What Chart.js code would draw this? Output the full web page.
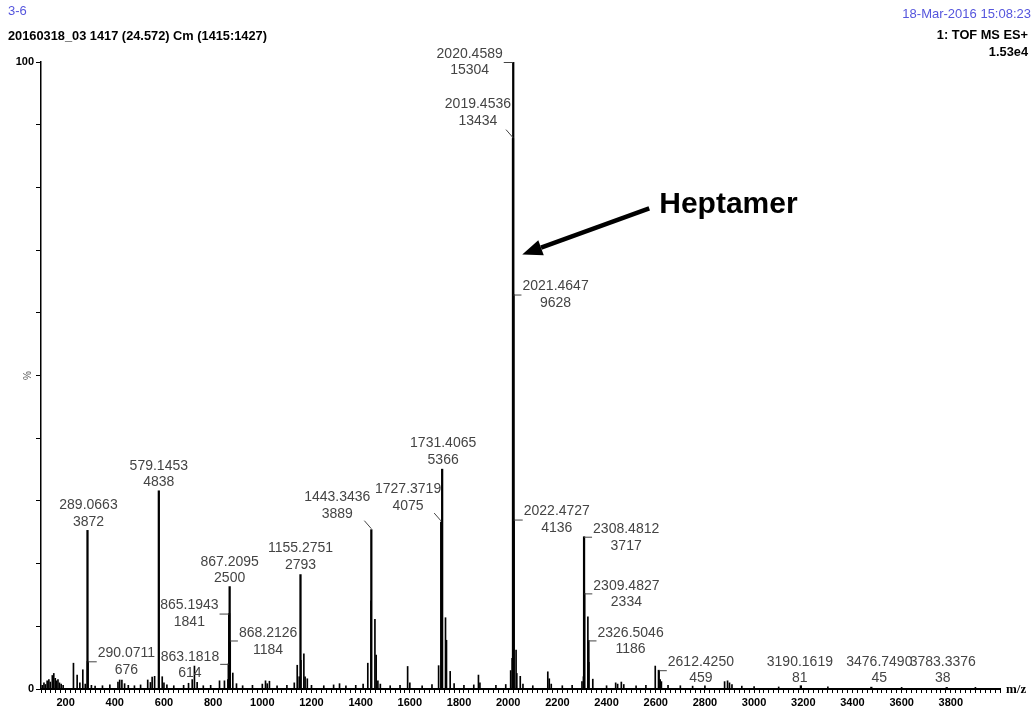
<!DOCTYPE html>
<html><head><meta charset="utf-8">
<script src="https://cdn.jsdelivr.net/npm/chart.js@4.4.1/dist/chart.umd.min.js"></script>
<style>html,body{margin:0;padding:0;background:#fff;}canvas{display:block;}</style>
</head><body>
<canvas id="c" width="1036" height="715"></canvas>
<script>
// ---------- DATA ----------
const basePeakCounts = 15304;           // 100 %
const headerLeft = ['3-6', '20160318_03 1417 (24.572) Cm (1415:1427)'];
const headerRight = ['18-Mar-2016 15:08:23', '1: TOF MS ES+', '1.53e4'];
const yAxisTitle = '%';
const xAxisTitle = 'm/z';
const calloutText = 'Heptamer';
const calloutTargetMz = 2020.4589;

const labeledMz = [289.0663, 290.0711, 579.1453, 863.1818, 865.1943, 867.2095, 868.2126,
  1155.2751, 1443.3436, 1727.3719, 1731.4065, 2019.4536, 2020.4589, 2021.4647, 2022.4727,
  2308.4812, 2309.4827, 2326.5046, 2612.4250, 3190.1619, 3476.7490, 3783.3376];
const labeledCounts = [3872, 676, 4838, 614, 1841, 2500, 1184,
  2793, 3889, 4075, 5366, 13434, 15304, 9628, 4136,
  3717, 2334, 1186, 459, 81, 45, 38];

const minorMz = [105, 112, 118, 125, 132, 138, 146, 152, 158, 163, 169, 175, 182, 190,
  232, 247, 258, 270, 280, 305, 320, 350, 380, 413, 420, 429, 440, 455, 480, 505,
  534, 545, 552, 562, 593, 600, 612, 640, 680, 700, 715, 724, 735, 760, 790,
  826, 846, 860, 880, 895, 920, 960, 1000, 1013, 1020, 1029, 1060, 1100, 1130,
  1142, 1150, 1157, 1169, 1174, 1183, 1200, 1250, 1290, 1314, 1340, 1380, 1410,
  1429, 1442, 1458, 1463, 1470, 1480, 1520, 1560, 1591, 1600, 1650, 1690, 1717,
  1745, 1749, 1764, 1780, 1820, 1860, 1879, 1885, 1950, 1990, 2010, 2016, 2032,
  2035, 2049, 2060, 2100, 2161, 2167, 2175, 2220, 2260, 2300, 2306, 2307.5, 2324,
  2328, 2344, 2400, 2437, 2445, 2460, 2470, 2520, 2560, 2598, 2618, 2623, 2650,
  2700, 2750, 2800, 2880, 2892, 2900, 2910, 2950, 3000, 3100, 3300, 3600, 3900];
const minorCounts = [90, 150, 110, 200, 230, 170, 330, 380, 260, 200, 230, 150, 120, 90,
  630, 340, 150, 470, 120, 90, 70, 80, 100, 170, 220, 220, 130, 90, 80, 100,
  220, 160, 290, 310, 300, 150, 100, 80, 90, 140, 230, 560, 160, 80, 90,
  200, 200, 230, 390, 130, 80, 90, 120, 200, 130, 190, 80, 90, 150,
  580, 300, 700, 860, 300, 250, 90, 80, 100, 130, 80, 90, 120,
  630, 2150, 1700, 830, 200, 120, 80, 90, 550, 150, 80, 110, 570,
  1740, 1190, 430, 130, 90, 100, 340, 150, 90, 110, 450, 750, 950,
  380, 310, 120, 80, 420, 250, 120, 80, 90, 180, 300, 2830, 1760,
  650, 240, 80, 150, 120, 170, 110, 80, 90, 560, 230, 180, 90,
  80, 70, 80, 180, 200, 150, 110, 70, 60, 50, 50, 40, 40];

// ---------- LAYOUT / STYLE (not data) ----------
const labelPlacement = [
  {k:'above', dx:1, dy:-25}, {k:'right', tx:10, ty:-8}, {k:'above', dx:0, dy:-25},
  {k:'left', tx:9.5, ty:-7}, {k:'left', tx:10.6, ty:-8}, {k:'above', dx:0, dy:-24.5},
  {k:'right', tx:9, ty:-7}, {k:'above', dx:0, dy:-26}, {k:'diag', ty:-32.3, r:-1},
  {k:'diag', ty:-32.7, r:0}, {k:'above', dx:1, dy:-26}, {k:'diag', ty:-34.2, r:-2},
  {k:'left', tx:10.5, ty:-8}, {k:'right', tx:9, ty:-8}, {k:'right', tx:10, ty:-8},
  {k:'right', tx:9, ty:-7.4}, {k:'right', tx:9, ty:-7.4}, {k:'right', tx:9, ty:-7.7},
  {k:'right', tx:9, ty:-8.5}, {k:'above', dx:-1, dy:-24}, {k:'above', dx:8, dy:-25.5},
  {k:'above', dx:-4, dy:-25.7}
];
const SANS = '"Liberation Sans", Arial, sans-serif';
const LBL_FONT = '14px ' + SANS;
const LBL_COLOR = '#444';
const LINE_GAP = 16.5;

const toPct = c => c / basePeakCounts * 100;
const mainData = labeledMz.map((m, i) => ({x: m, y: toPct(labeledCounts[i])}));
const minorData = minorMz.map((m, i) => ({x: m, y: toPct(minorCounts[i])}));

const annotate = {
  id: 'annotate',
  afterDraw(chart) {
    const ctx = chart.ctx, xs = chart.scales.x, ys = chart.scales.y;
    ctx.save();
    ctx.textBaseline = 'middle';
    ctx.textAlign = 'left';
    ctx.fillStyle = '#5555dd';
    ctx.font = '13px ' + SANS;
    ctx.fillText(headerLeft[0], 8, 11);
    ctx.fillStyle = '#000';
    ctx.font = 'bold 12.8px ' + SANS;
    ctx.fillText(headerLeft[1], 8, 36);
    ctx.textAlign = 'right';
    ctx.fillStyle = '#5555dd';
    ctx.font = '13px ' + SANS;
    ctx.fillText(headerRight[0], 1031, 14);
    ctx.fillStyle = '#000';
    ctx.font = 'bold 12.8px ' + SANS;
    ctx.fillText(headerRight[1], 1028, 35);
    ctx.fillText(headerRight[2], 1028, 52);

    ctx.save();
    ctx.translate(28, (ys.top + ys.bottom) / 2);
    ctx.rotate(-Math.PI / 2);
    ctx.textAlign = 'center';
    ctx.fillStyle = '#555';
    ctx.font = '10px ' + SANS;
    ctx.fillText(yAxisTitle, 0, 0);
    ctx.restore();

    ctx.textAlign = 'left';
    ctx.fillStyle = '#000';
    ctx.font = 'bold 13px "Liberation Serif", "Times New Roman", serif';
    ctx.fillText(xAxisTitle, xs.right + 6, ys.bottom + 1);

    ctx.font = LBL_FONT;
    ctx.fillStyle = LBL_COLOR;
    ctx.strokeStyle = LBL_COLOR;
    ctx.lineWidth = 1;
    labeledMz.forEach((m, i) => {
      const p = labelPlacement[i];
      const px = xs.getPixelForValue(m);
      const py = ys.getPixelForValue(toPct(labeledCounts[i]));
      const t1 = m.toFixed(4), t2 = String(labeledCounts[i]);
      const w1 = ctx.measureText(t1).width;
      let cx, y1;
      if (p.k === 'above') {
        cx = px + p.dx; y1 = py + p.dy;
      } else if (p.k === 'right') {
        const sx = px + p.tx;
        cx = sx + w1 / 2; y1 = py + p.ty;
        ctx.beginPath(); ctx.moveTo(px, py + 0.5); ctx.lineTo(sx - 1, py + 0.5); ctx.stroke();
      } else if (p.k === 'left') {
        const ex = px - p.tx;
        cx = ex - w1 / 2; y1 = py + p.ty;
        ctx.beginPath(); ctx.moveTo(ex + 1, py + 0.5); ctx.lineTo(px, py + 0.5); ctx.stroke();
      } else {
        const ex = px + p.r;
        cx = ex - w1 / 2; y1 = py + p.ty;
        ctx.beginPath(); ctx.moveTo(px - 7, py - 9); ctx.lineTo(px, py - 1); ctx.stroke();
      }
      ctx.textAlign = 'center';
      ctx.fillText(t1, cx, y1);
      ctx.fillText(t2, cx, y1 + LINE_GAP);
    });

    const tipX = xs.getPixelForValue(calloutTargetMz) + 9;
    const tipY = ys.getPixelForValue(69.3);
    const tailX = tipX + 127, tailY = tipY - 46;
    const ang = Math.atan2(tipY - tailY, tipX - tailX);
    const headLen = 20, headW = 8;
    const bx = tipX - headLen * Math.cos(ang), by = tipY - headLen * Math.sin(ang);
    ctx.strokeStyle = '#000'; ctx.fillStyle = '#000';
    ctx.lineWidth = 4.5;
    ctx.beginPath(); ctx.moveTo(tailX, tailY); ctx.lineTo(bx, by); ctx.stroke();
    ctx.beginPath();
    ctx.moveTo(tipX, tipY);
    ctx.lineTo(bx + headW * Math.sin(ang), by - headW * Math.cos(ang));
    ctx.lineTo(bx - headW * Math.sin(ang), by + headW * Math.cos(ang));
    ctx.closePath(); ctx.fill();
    ctx.textAlign = 'left';
    ctx.font = 'bold 30px ' + SANS;
    ctx.fillText(calloutText, tailX + 10, tailY - 4);
    ctx.restore();
  }
};

new Chart(document.getElementById('c'), {
  type: 'bar',
  data: {
    datasets: [
      {data: minorData, backgroundColor: '#000', barThickness: 1, grouped: false, borderWidth: 0},
      {data: mainData, backgroundColor: '#000', barThickness: 1.6, grouped: false, borderWidth: 0}
    ]
  },
  options: {
    responsive: false, animation: false, devicePixelRatio: 1,
    layout: {padding: {left: 0, top: 62, right: 36, bottom: 0}},
    plugins: {legend: {display: false}, tooltip: {enabled: false}},
    scales: {
      x: {
        type: 'linear', min: 100, max: 4000, offset: false,
        grid: {display: true, offset: false, drawOnChartArea: false, drawTicks: true, tickLength: 4, color: '#000', tickWidth: 1},
        border: {display: true, color: '#000', width: 2},
        ticks: {stepSize: 20, autoSkip: false, maxRotation: 0, minRotation: 0, padding: 3, color: '#000',
          font: {family: SANS, weight: 'bold', size: 11},
          callback: v => (v % 200 === 0 && v >= 200 && v < 4000) ? String(v) : ''},
        afterFit: s => { s.height = 26; }
      },
      y: {
        type: 'linear', min: 0, max: 100,
        grid: {display: true, drawOnChartArea: false, drawTicks: true, tickLength: 5, color: '#000', tickWidth: 1},
        border: {display: true, color: '#000', width: 1.5},
        ticks: {stepSize: 10, autoSkip: false, padding: 2, color: '#000',
          font: {family: SANS, weight: 'bold', size: 11},
          callback: v => (v === 0 || v === 100) ? String(v) : ''},
        afterFit: s => { s.width = 41; }
      }
    }
  },
  plugins: [annotate]
});
</script>
</body></html>
